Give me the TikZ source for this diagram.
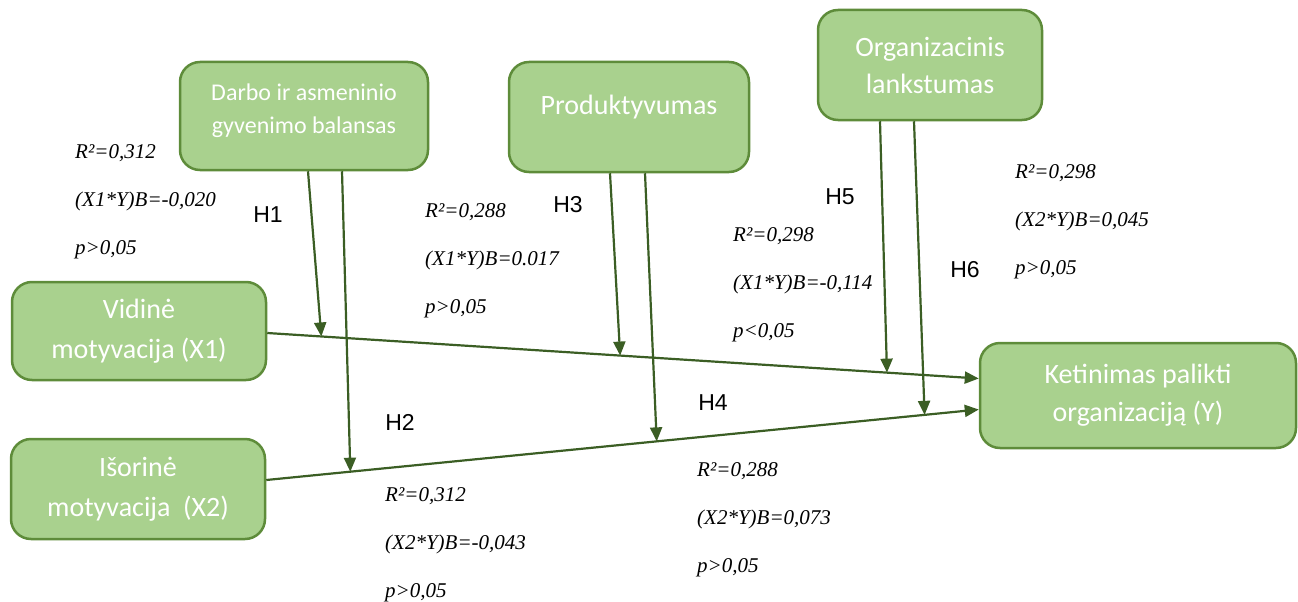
\documentclass[tikz,border=0pt]{standalone}
\usepackage{fontspec}
\usetikzlibrary{arrows.meta}
\newfontfamily\boxfont{Carlito}
\newfontfamily\hypfont{Liberation Sans}
\newfontfamily\statfont{Liberation Serif}
\definecolor{boxfill}{HTML}{A9D18E}
\definecolor{boxline}{HTML}{5E8C3A}
\definecolor{linkgreen}{HTML}{3B5E24}
\begin{document}
\begin{tikzpicture}[x=1pt, y=-1pt,
    box/.style={draw=boxline, line width=2.5pt, fill=boxfill, rounded corners=20pt,
      text=white, align=center, inner sep=0pt, font=\boxfont\fontsize{28}{40}\selectfont},
    hyp/.style={font=\hypfont\fontsize{23}{28}\selectfont},
    stat/.style={anchor=west, align=left, inner sep=0pt,
      font=\statfont\itshape\fontsize{21}{48}\selectfont},
    link/.style={draw=linkgreen, line width=2.2pt, -{Triangle[length=14pt,width=12pt]}}]
  \useasboundingbox (0,0) rectangle (1298,602);
  % boxes
  \node[box, minimum width=248pt, minimum height=108pt, text depth=14pt,
    font=\boxfont\fontsize{24}{33}\selectfont] (darbo) at (304,116)
    {Darbo ir asmeninio\\gyvenimo balansas};
  \node[box, minimum width=240pt, minimum height=110pt, text depth=24pt] (produkt) at (629,117) {Produktyvumas};
  \node[box, minimum width=224pt, minimum height=110pt, font=\boxfont\fontsize{28}{37}\selectfont] (org) at (930,65)
    {Organizacinis\\lankstumas};
  \node[box, minimum width=254pt, minimum height=98pt] (x1) at (139,331) {Vidinė\\motyvacija (X1)};
  \node[box, minimum width=254pt, minimum height=100pt] (x2) at (138,489) {Išorinė\\motyvacija~~(X2)};
  \node[box, minimum width=316pt, minimum height=105pt, font=\boxfont\fontsize{28}{38}\selectfont] (y) at (1138,395.5)
    {Ketinimas palikti\\organizaciją (Y)};
  % main paths
  \coordinate (a1) at ([yshift=-2pt]x1.east);
  \coordinate (b1) at ([yshift=17pt]y.west);
  \coordinate (a2) at ([yshift=9pt]x2.east);
  \coordinate (b2) at ([yshift=-14pt]y.west);
  \draw[link] (a1) -- (b1);
  \draw[link] (a2) -- (b2);
  \path (a1) -- (b1) coordinate[pos=0.076] (h1) coordinate[pos=0.496] (h3) coordinate[pos=0.871] (h5);
  \path (a2) -- (b2) coordinate[pos=0.118] (h2) coordinate[pos=0.548] (h4) coordinate[pos=0.924] (h6);
  % moderators
  \draw[link] ([xshift=4pt]darbo.south) -- (h1);
  \draw[link] ([xshift=38pt]darbo.south) -- (h2);
  \draw[link] ([xshift=-19pt]produkt.south) -- (h3);
  \draw[link] ([xshift=16pt]produkt.south) -- (h4);
  \draw[link] ([xshift=-50pt]org.south) -- (h5);
  \draw[link] ([xshift=-16pt]org.south) -- (h6);
  % labels
  \node[hyp] (lh1) at (268,215) {H1};
  \node[hyp] (lh2) at (400,422) {H2};
  \node[hyp] (lh3) at (568,205) {H3};
  \node[hyp] (lh4) at (713,403) {H4};
  \node[hyp] (lh5) at (840,197) {H5};
  \node[hyp] (lh6) at (965,270) {H6};
  \node[stat] (s1) at (75,202) {R²=0,312\\(X1*Y)B=-0,020\\p>0,05};
  \node[stat] (s2) at (385,545) {R²=0,312\\(X2*Y)B=-0,043\\p>0,05};
  \node[stat] (s3) at (425,261) {R²=0,288\\(X1*Y)B=0.017\\p>0,05};
  \node[stat] (s4) at (697,520) {R²=0,288\\(X2*Y)B=0,073\\p>0,05};
  \node[stat] (s5) at (733,285) {R²=0,298\\(X1*Y)B=-0,114\\p<0,05};
  \node[stat] (s6) at (1015,222) {R²=0,298\\(X2*Y)B=0,045\\p>0,05};
\end{tikzpicture}
\end{document}
